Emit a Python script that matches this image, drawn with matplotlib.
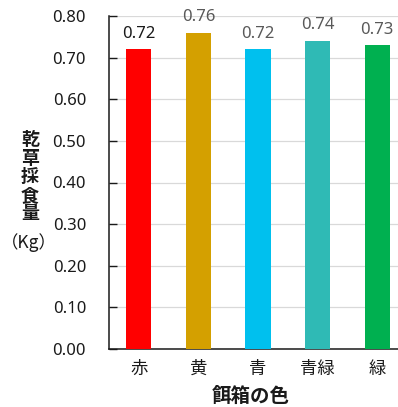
import matplotlib
matplotlib.use("Agg")
import matplotlib.pyplot as plt

# Dry hay intake by feeder colour
categories = ["赤", "黄", "青", "青緑", "緑"]
values = [0.72, 0.76, 0.72, 0.74, 0.73]
value_labels = ["0.72", "0.76", "0.72", "0.74", "0.73"]
colors = ["#FF0000", "#D4A000", "#00C0EE", "#2FBAB5", "#00B050"]
yticks = [0.0, 0.1, 0.2, 0.3, 0.4, 0.5, 0.6, 0.7, 0.8]
ylabel_chars = ["乾", "草", "採", "食", "量"]

cjk = ["Noto Sans CJK JP", "DejaVu Sans"]
num_font = ["Noto Sans", "DejaVu Sans"]

W, H = 398, 407
fig = plt.figure(figsize=(W / 100, H / 100), dpi=100)
left, right, top, bottom = 109, 407, 16, 349
ax = fig.add_axes([left / W, 1 - bottom / H, (right - left) / W, (bottom - top) / H])

x = range(len(categories))
ax.bar(x, values, width=0.42, color=colors, zorder=3)

for i, (v, lab) in enumerate(zip(values, value_labels)):
    ax.text(i, v + 0.018, lab, ha="center", va="bottom", fontsize=12,
            family=num_font, color="#1a1a1a" if i == 0 else "#595959", zorder=4)

ax.set_xlim(-0.5, len(categories) - 0.5)
ax.set_ylim(0, 0.8)
ax.set_yticks(yticks)
ax.set_yticklabels([f"{t:.2f}" for t in yticks], family=num_font, fontsize=12, color="#1a1a1a")
ax.set_xticks(list(x))
ax.set_xticklabels(categories, family=cjk, fontsize=12.5, color="#1a1a1a")

ax.grid(axis="y", color="#D9D9D9", linewidth=0.9, zorder=0)
ax.tick_params(axis="y", direction="in", length=6, width=1, pad=16.5, colors="#1a1a1a")
ax.tick_params(axis="x", length=0, pad=8)
for s in ["top", "right"]:
    ax.spines[s].set_visible(False)
for s in ["left", "bottom"]:
    ax.spines[s].set_color("#1a1a1a")
    ax.spines[s].set_linewidth(1.1)

# Vertical stacked y-axis title, one character per line
for k, ch in enumerate(ylabel_chars):
    fig.text(30 / W, 1 - (139.5 + 18.6 * k) / H, ch, ha="center", va="center",
             family=cjk, fontsize=13, fontweight="bold", color="#1a1a1a")
fig.text(29 / W, 1 - 243 / H, "（Kg）", ha="center", va="center",
         family=cjk, fontsize=12.5, color="#1a1a1a")

fig.text(251 / W, 1 - 396 / H, "餌箱の色", ha="center", va="center",
         family=cjk, fontsize=14, fontweight="bold", color="#1a1a1a")

fig.savefig("out.png", dpi=100)
